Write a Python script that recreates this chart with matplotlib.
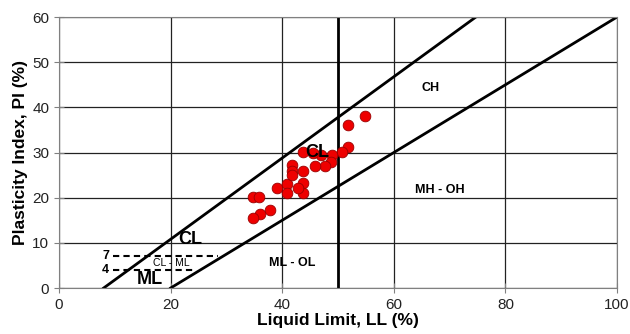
import matplotlib
matplotlib.use("Agg")
import matplotlib.pyplot as plt

plt.rcParams['font.family'] = ['Liberation Sans', 'DejaVu Sans']

# Sample data (Liquid Limit, Plasticity Index)
ll = [54.8, 51.8, 51.8, 50.8, 49.0, 48.8, 47.7, 45.8, 47.0, 43.8,
      41.8, 41.7, 43.8, 39.0, 40.8, 40.8, 43.8, 43.8, 42.9, 34.7,
      35.9, 37.8, 36.0, 34.7, 45.5, 41.8]
pi = [38.1, 36.1, 31.2, 30.2, 29.5, 28.0, 27.0, 27.0, 29.5, 30.2,
      27.2, 26.0, 26.0, 22.1, 23.1, 21.1, 23.2, 21.1, 22.1, 20.2,
      20.2, 17.3, 16.4, 15.4, 29.8, 25.0]

# Reference lines
a_line_ll = [20, 100]
a_line_pi = [0, 60]
u_line_ll = [8, 74.7]
u_line_pi = [0, 60]
dash7_ll = [9.7, 28.5]
dash4_ll = [9.7, 24.5]
x_ticks = [0, 20, 40, 60, 80, 100]
y_ticks = [0, 10, 20, 30, 40, 50, 60]

fig = plt.figure(figsize=(6.3, 3.34), dpi=100)
ax = fig.add_axes([0.0937, 0.1377, 0.8857, 0.8113])
ax.set_xlim(0, 100)
ax.set_ylim(0, 60)
ax.set_xticks(x_ticks)
ax.set_yticks(y_ticks)
ax.grid(True, color='#222222', linewidth=0.9)
ax.set_axisbelow(True)
for s in ax.spines.values():
    s.set_color('#808080')
ax.tick_params(direction='inout', length=7, color='#808080', labelsize=11,
               labelcolor='#222222')

ax.plot(a_line_ll, a_line_pi, color='black', lw=2)
ax.plot(u_line_ll, u_line_pi, color='black', lw=2)
ax.axvline(50, color='black', lw=2)

# dashed CL-ML zone lines
ax.plot(dash7_ll, [7, 7], color='black', lw=1.5, ls=(0, (3, 2)))
ax.plot(dash4_ll, [4, 4], color='black', lw=1.5, ls=(0, (3, 2)))
ax.text(9.0, 7, '7', fontsize=9, fontweight='bold', ha='right', va='center')
ax.text(9.0, 4, '4', fontsize=9, fontweight='bold', ha='right', va='center')

ax.plot(ll, pi, 'o', color='#ee0000', markeredgecolor='#990000',
        markeredgewidth=0.6, markersize=7.7, zorder=3)

ax.text(23.5, 10.8, 'CL', fontsize=13, fontweight='bold', ha='center', va='center')
ax.text(20.2, 5.6, 'CL - ML', fontsize=7.5, ha='center', va='center')
ax.text(16.3, 1.8, 'ML', fontsize=13, fontweight='bold', ha='center', va='center')
ax.text(46.3, 30.0, 'CL', fontsize=13, fontweight='bold', ha='center', va='center', zorder=4)
ax.text(66.5, 44.3, 'CH', fontsize=9, fontweight='bold', ha='center', va='center')
ax.text(68.3, 21.7, 'MH - OH', fontsize=9, fontweight='bold', ha='center', va='center')
ax.text(41.8, 5.6, 'ML - OL', fontsize=9, fontweight='bold', ha='center', va='center')

ax.set_xlabel('Liquid Limit, LL (%)', fontsize=12.5, fontweight='bold', labelpad=1)
ax.set_ylabel('Plasticity Index, PI (%)', fontsize=12.5, fontweight='bold', labelpad=3)

fig.savefig('out.png', dpi=100)
